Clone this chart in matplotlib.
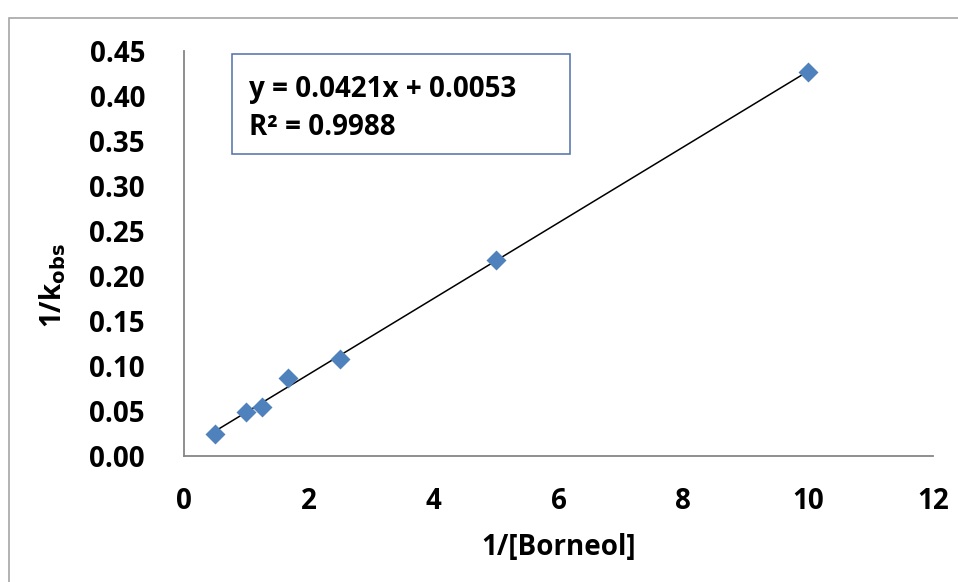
import matplotlib
matplotlib.use("Agg")
import matplotlib.pyplot as plt
from matplotlib.patches import Rectangle
import numpy as np

plt.rcParams['font.family'] = ['Open Sans', 'DejaVu Sans']
plt.rcParams['font.weight'] = 'bold'

# data
inv_borneol = [0.5, 1.0, 1.25, 1.667, 2.5, 5.0, 10.0]
inv_kobs = [0.025, 0.049, 0.055, 0.087, 0.108, 0.218, 0.427]
eq_text = "y = 0.0421x + 0.0053"
r2_text = "R² = 0.9988"
xticks = [0, 2, 4, 6, 8, 10, 12]
yticks = [0.00, 0.05, 0.10, 0.15, 0.20, 0.25, 0.30, 0.35, 0.40, 0.45]

fs = 20

fig = plt.figure(figsize=(9.58, 5.82), dpi=100)
fig.patches.append(Rectangle((9/958, -0.1), 1.2, 1 - 18/582 + 0.1,
                             transform=fig.transFigure, fill=False,
                             edgecolor='#a6a6a6', lw=1.2))

ax = fig.add_axes([184/958, 1 - 456/582, (933-184)/958, (456-51)/582])

x = np.array(inv_borneol)
y = np.array(inv_kobs)
slope, icpt = np.polyfit(x, y, 1)
xs = np.array([x.min(), x.max()])
ax.plot(xs, slope*xs + icpt, color='black', lw=1.1, zorder=2)
ax.plot(x, y, 'D', color='#4f81bd', ms=10.5, mec='none', zorder=3)

ax.set_xlim(0, 12)
ax.set_ylim(0, 0.45)
ax.set_xticks(xticks)
ax.set_yticks(yticks)
ax.set_yticklabels([f"{v:.2f}" for v in yticks])
ax.tick_params(length=0, labelsize=fs)
ax.tick_params(axis='y', pad=28)
ax.tick_params(axis='x', pad=22)
for s in ['top', 'right']:
    ax.spines[s].set_visible(False)
for s in ['left', 'bottom']:
    ax.spines[s].set_color('#868686')
    ax.spines[s].set_linewidth(1.3)

ax.set_xlabel("1/[Borneol]", fontsize=fs, fontweight='bold')
ax.xaxis.set_label_coords(0.5, -0.19)
ax.set_ylabel("1/k$_{\\mathbf{obs}}$", fontsize=fs, fontweight='bold')
ax.yaxis.set_label_coords(-0.155, 0.42)

# trendline label box
ax.add_patch(Rectangle((0.064, 0.746), 0.451, 0.247, transform=ax.transAxes,
                       fc='white', ec='#4f6fa8', lw=1.1, zorder=4, clip_on=False))
ax.text(0.087, 0.886, eq_text, transform=ax.transAxes, fontsize=fs,
        va='baseline', ha='left', zorder=5)
ax.text(0.087, 0.792, r2_text, transform=ax.transAxes, fontsize=fs,
        va='baseline', ha='left', zorder=5)

fig.savefig("out.png", dpi=100)
